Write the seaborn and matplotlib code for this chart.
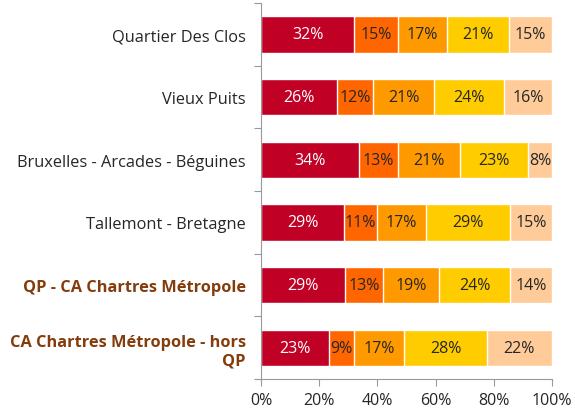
import numpy as np
import pandas as pd
import matplotlib
matplotlib.use("Agg")
import matplotlib.pyplot as plt
import seaborn as sns

# Donnees (parts en %)
quartiers = [
    "Quartier Des Clos",
    "Vieux Puits",
    "Bruxelles - Arcades - Béguines",
    "Tallemont - Bretagne",
    "QP - CA Chartres Métropole",
    "CA Chartres Métropole - hors\nQP",
]
part_1 = [32.1, 26.0, 33.7, 28.6, 28.9, 23.2]
part_2 = [15.1, 12.4, 13.4, 11.2, 13.0, 8.7]
part_3 = [16.6, 21.2, 21.2, 16.9, 19.3, 17.3]
part_4 = [21.3, 24.0, 23.4, 28.7, 24.4, 28.4]
part_5 = [14.9, 16.4, 8.3, 14.6, 14.4, 22.4]
x_ticks = [0, 20, 40, 60, 80, 100]

couleurs = ["#C00025", "#FF6600", "#FF9900", "#FFCC00", "#FFCC99"]
couleurs_texte = ["white", "#262626", "#262626", "#262626", "#262626"]

sns.set_style("white")
plt.rcParams["font.family"] = ["Open Sans", "DejaVu Sans"]

df = pd.DataFrame({"quartier": quartiers, "p1": part_1, "p2": part_2,
                   "p3": part_3, "p4": part_4, "p5": part_5})
cols = ["p1", "p2", "p3", "p4", "p5"]
cumul = df[cols].cumsum(axis=1)

fig = plt.figure(figsize=(5.75, 4.1), dpi=100)
ax = fig.add_axes([0.454, 0.073, 0.506, 0.917])

# barres empilees : on dessine les cumuls du plus grand au plus petit
for i in range(len(cols) - 1, -1, -1):
    sns.barplot(x=cumul[cols[i]], y=df["quartier"], color=couleurs[i],
                orient="h", width=0.58, saturation=1, ax=ax)

# etiquettes des segments
for j in range(len(df)):
    debut = 0
    for i, c in enumerate(cols):
        v = df.loc[j, c]
        ax.text(debut + v / 2, j, "%.0f%%" % v, ha="center", va="center",
                fontsize=11.5, color=couleurs_texte[i])
        debut += v

ax.set_xlim(0, 100)
ax.set_ylim(len(df) - 0.5, -0.5)
ax.set_xticks(x_ticks)
ax.set_xticklabels([f"{t}%" for t in x_ticks], fontsize=11.5, color="#262626")
ax.set_xlabel("")
ax.set_ylabel("")

# graduations de l'axe y entre les categories
ax.set_yticks(np.arange(-0.5, len(df), 1))
ax.set_yticklabels([])
ax.set_yticks(range(len(df)), minor=True)
ax.set_yticklabels(quartiers, minor=True, fontsize=11.8)
ax.tick_params(axis="y", which="minor", length=0, pad=11)
ax.tick_params(axis="y", which="major", length=5, color="#999999", direction="out", left=True)
ax.tick_params(axis="x", length=5, color="#999999", direction="out", bottom=True, pad=4)

for k, lab in enumerate(ax.get_yticklabels(minor=True)):
    if k >= 4:
        lab.set_color("#843C0C")
        lab.set_fontweight("bold")
    else:
        lab.set_color("#262626")

for s in ["top", "right"]:
    ax.spines[s].set_visible(False)
for s in ["left", "bottom"]:
    ax.spines[s].set_color("#999999")

plt.savefig("out.png", dpi=100)
